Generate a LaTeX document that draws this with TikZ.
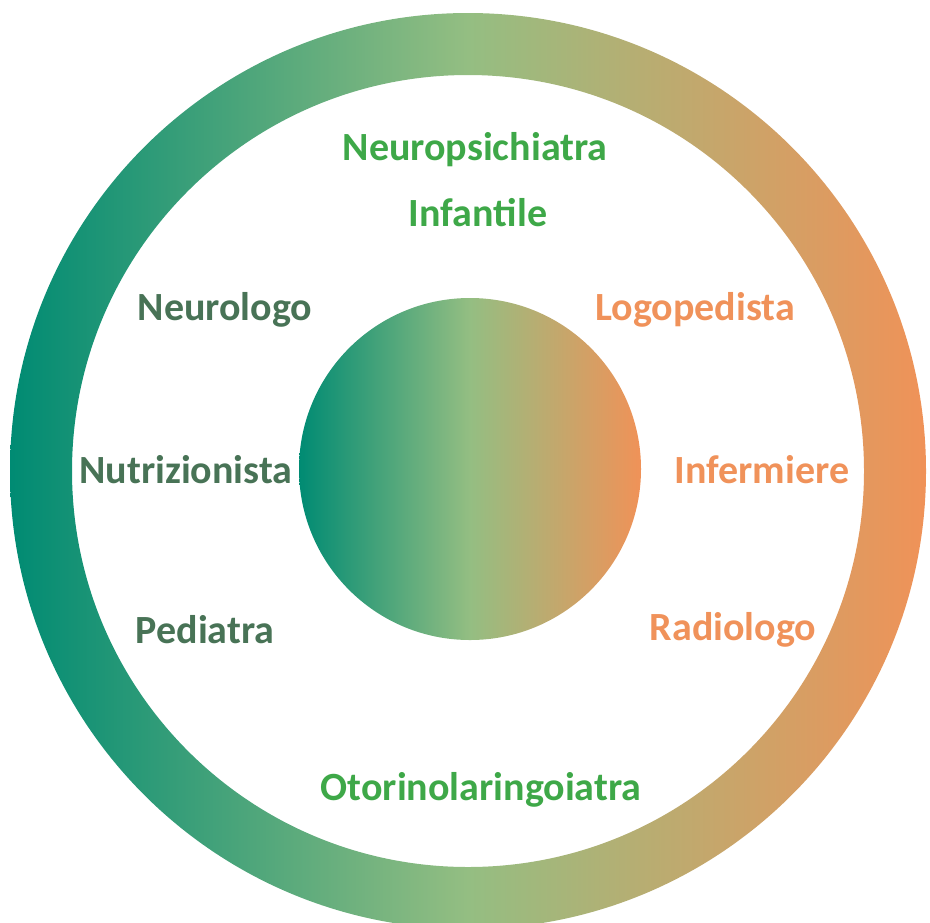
\documentclass[tikz,border=0pt]{standalone}
\usepackage{fontspec}
\setmainfont{Carlito}
\usepackage{tikz}
\usepackage{xcolor}
\usetikzlibrary{positioning}
\definecolor{cTeal}{RGB}{0,139,115}
\definecolor{cMid}{RGB}{148,190,130}
\definecolor{cOrange}{RGB}{240,146,88}
\definecolor{cDark}{RGB}{72,115,86}
\definecolor{cGreen}{RGB}{62,168,72}
\definecolor{cPeach}{RGB}{240,146,90}
\tikzset{
	grad/.style    ={left color=cTeal, right color=cOrange, middle color=cMid, draw=none},
	% label styles
	role/.style    ={font=\fontsize{20}{22}\selectfont\bfseries, inner sep=0pt, align=center},
	roleL/.style   ={role, text=cDark},
	roleC/.style   ={role, text=cGreen},
	roleR/.style   ={role, text=cPeach},
}
\begin{document}
\begin{tikzpicture}[x=0.5pt, y=-0.5pt]
	\useasboundingbox (0,0) rectangle (930,922);
	\coordinate (O) at (468,471);
	\coordinate (C) at (470,469);
	% ring and centre
	\shade[grad, even odd rule] (O) circle[radius=458] (O) circle[radius=396];
	\shade[grad] (C) circle[radius=171];
	% roles
	\node[roleC] (npi) at (475,150) {Neuropsichiatra};
	\node[roleC] (inf) at (478,213) {Infantile};
	\node[roleL] (neu) at (225,310) {Neurologo};
	\node[roleR] (log) at (695,310) {Logopedista};
	\node[roleL] (nut) at (186,470) {Nutrizionista};
	\node[roleR] (ifm) at (762,470) {Infermiere};
	\node[roleL] (ped) at (205,630) {Pediatra};
	\node[roleR] (rad) at (733,630) {Radiologo};
	\node[roleC] (oto) at (481,790) {Otorinolaringoiatra};
\end{tikzpicture}
\end{document}
